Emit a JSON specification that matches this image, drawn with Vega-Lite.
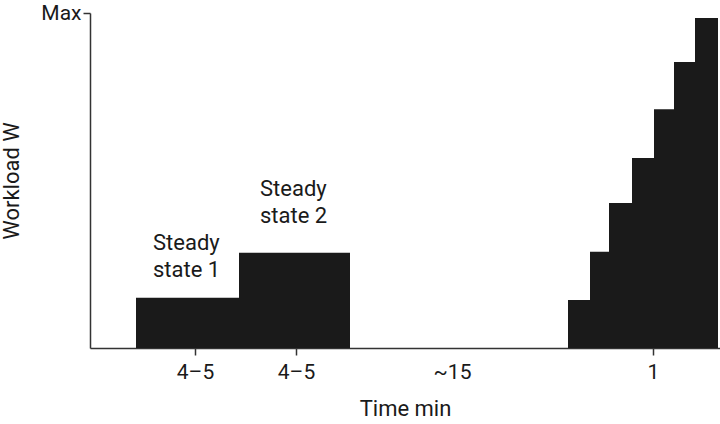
{
  "$schema": "https://vega.github.io/schema/vega-lite/v6.json",
  "width": 630,
  "height": 335,
  "autosize": "none",
  "padding": {"left": 90, "top": 13, "right": 0, "bottom": 76},
  "background": "white",
  "config": {
    "view": {"stroke": null},
    "font": "Roboto",
    "axis": {"grid": false, "domainColor": "#333333", "tickColor": "#333333", "labelColor": "#1a1a1a", "titleColor": "#1a1a1a", "labelFont": "Roboto", "titleFont": "Roboto", "labelFontSize": 21, "titleFontSize": 22, "titleFontWeight": "normal", "domainWidth": 1.5, "tickWidth": 1.5}
  },
  "layer": [
    {
      "data": {"values": [
        {"start": 4.6, "end": 14.9, "w": 15},
        {"start": 14.9, "end": 26.0, "w": 28.4},
        {"start": 47.8, "end": 50.0, "w": 14.3},
        {"start": 50.0, "end": 51.9, "w": 28.7},
        {"start": 51.9, "end": 54.2, "w": 43.3},
        {"start": 54.2, "end": 56.4, "w": 56.7},
        {"start": 56.4, "end": 58.4, "w": 71.3},
        {"start": 58.4, "end": 60.5, "w": 85.4},
        {"start": 60.5, "end": 62.8, "w": 98.5}
      ]},
      "mark": {"type": "rect", "color": "#1a1a1a"},
      "encoding": {
        "x": {"field": "start", "type": "quantitative", "scale": {"domain": [0, 63], "nice": false, "zero": false},
          "axis": {"title": "Time min", "values": [10.5, 20.6, 36.2, 56.3],
            "labelExpr": "datum.value == 10.5 ? '4–5' : datum.value == 20.6 ? '4–5' : datum.value == 36.2 ? '~15' : '1'",
            "tickSize": 7, "labelPadding": 6, "titlePadding": 16,
            "tickOpacity": {"condition": {"test": "datum.value == 36.2", "value": 0}, "value": 1}}},
        "x2": {"field": "end"},
        "y": {"field": "w", "type": "quantitative", "scale": {"domain": [0, 100], "nice": false},
          "axis": {"title": "Workload W", "values": [100], "labelExpr": "'Max'", "tickSize": 7, "labelPadding": 2, "titlePadding": 17}},
        "y2": {"datum": 0}
      }
    },
    {
      "data": {"values": [
        {"x": 6.3, "y": 29.3, "label": "Steady\nstate 1"},
        {"x": 17.0, "y": 45.4, "label": "Steady\nstate 2"}
      ]},
      "mark": {"type": "text", "align": "left", "baseline": "alphabetic", "fontSize": 22, "lineHeight": 27, "color": "#1a1a1a", "lineBreak": "\n"},
      "encoding": {
        "x": {"field": "x", "type": "quantitative"},
        "y": {"field": "y", "type": "quantitative"},
        "text": {"field": "label"}
      }
    }
  ]
}
